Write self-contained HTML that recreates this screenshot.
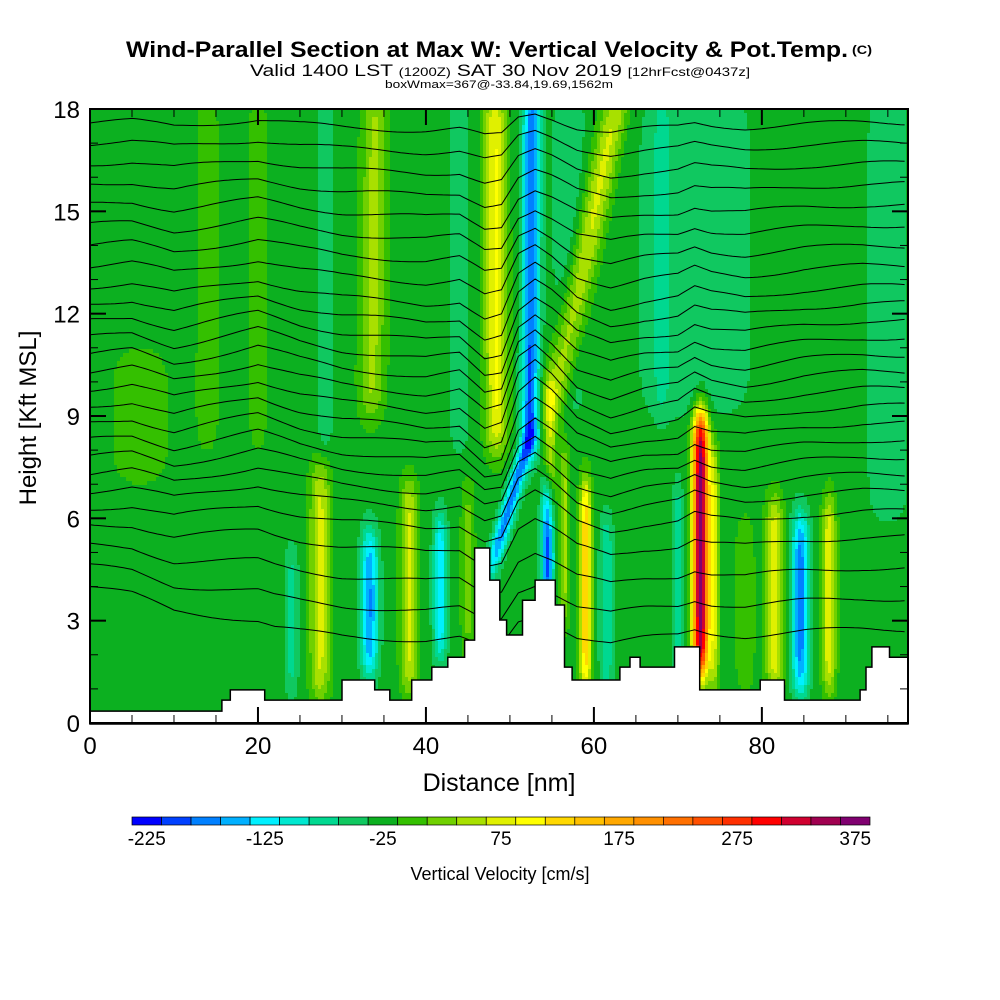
<!DOCTYPE html>
<html><head><meta charset="utf-8"><style>
html,body{margin:0;padding:0;background:#fff;}
svg{display:block;}
text{font-family:"Liberation Sans Narrow","Liberation Sans",sans-serif;}
</style></head><body>
<svg id="chart" width="1000" height="1000" viewBox="0 0 1000 1000" xmlns="http://www.w3.org/2000/svg">
<text x="126" y="57" font-size="22" font-weight="bold" textLength="722" lengthAdjust="spacingAndGlyphs">Wind-Parallel Section at Max W: Vertical Velocity &amp; Pot.Temp.</text>
<text x="852" y="54" font-size="12" font-weight="bold" textLength="20" lengthAdjust="spacingAndGlyphs">(C)</text>
<text x="250" y="76" font-size="17" textLength="500" lengthAdjust="spacingAndGlyphs">Valid 1400 LST <tspan font-size="12">(1200Z)</tspan> SAT 30 Nov 2019 <tspan font-size="12">[12hrFcst@0437z]</tspan></text>
<text x="385" y="88" font-size="11" textLength="228" lengthAdjust="spacingAndGlyphs">boxWmax=367@-33.84,19.69,1562m</text>
<g id="field"></g>
<g id="contours"></g>
<g id="terrain"></g>
<g id="axes"></g>
<g id="cbar"></g>
<text x="499" y="791" font-size="25" text-anchor="middle" style="font-family:'Liberation Sans',sans-serif">Distance [nm]</text>
<text transform="translate(36,418) rotate(-90)" font-size="24" text-anchor="middle" style="font-family:'Liberation Sans',sans-serif">Height [Kft MSL]</text>
<text x="500" y="880" font-size="18" text-anchor="middle" style="font-family:'Liberation Sans',sans-serif">Vertical Velocity [cm/s]</text>
</svg>
<script>
// ---- data ----
const xTicks=[0,20,40,60,80];
const yTicks=[0,3,6,9,12,15,18];
const cbarLabels=[-225,-125,-25,75,175,275,375];
const binColors=["#0000ff","#0040ff","#0080ff","#00b0ff","#00f0ff","#00e8d0","#00d890","#10c860","#0cb020","#34c000","#70d000","#a8e000","#e0f000","#ffff00","#ffd800","#ffc000","#ffa800","#ff9000","#ff7000","#ff5000","#ff3000","#ff0000","#d00030","#a00050","#800070"];
const terrainX=[0,15.7,16.7,20.8,30,33.9,35.7,38.3,40.7,42.6,44.6,45.8,47.6,48.8,49.6,51.5,53,55.4,56.5,57.4,63.1,64.3,65.5,67.9,69.6,72.6,79.8,82.7,91.7,92.4,93.1,95.2];
const terrainH=[0.35,0.67,0.97,0.67,1.26,0.97,0.67,1.26,1.64,1.93,2.43,5.13,4.19,3.02,2.58,3.6,4.19,3.46,1.64,1.26,1.64,1.93,1.64,1.64,2.23,0.97,1.26,0.67,0.97,1.64,2.23,1.93];
const plumeTopX=[48.2,52.6,63,34,28,72,95,27.4,24,33.3,38,41.7,45,54.5,56.5,59,61.5,72.7,74.3,70,81.5,84.6,88,6,78,52.4,54.8,14,20,44,57,68];
const plumeBotX=[48.4,52.4,55,33.5,28,72,95,27.4,24,33.3,38,41.7,45,54.5,56.5,59,61.5,72.7,74.3,70,81.5,84.6,88,6,78,47.8,54.8,14,20,44,57,68];
const plumeWidth=[1.3,1.0,1.6,1.5,1.0,7,2.5,1.2,0.8,1.0,1.0,0.8,0.8,0.7,0.6,0.7,0.8,0.9,0.6,0.6,1.0,1.0,0.8,4,1.2,0.9,0.7,1.5,1.2,1.2,2.0,1.0];
const plumeValue=[115,-165,95,70,-30,-30,-30,95,-50,-140,95,-110,45,-175,70,160,-60,400,90,-55,110,-150,110,25,30,-150,80,25,25,-30,-30,-30];
const plumeBottom=[8,8,9,9,8,9,6,0.8,1,1.5,1,2,2,3.5,3,1,1,1.5,1,1,1,1,1,7,1,4.5,6,8,8,8,9,9];
const plumeTopZ=[18.5,18.5,18.5,18.5,18.5,18.5,18.5,7.5,5,5.5,7,6,7,7,8,7,6,9,8,7,6.5,6,6.5,11,6,8.5,10,18.5,18.5,18.5,18.5,18.5];
const thetaBase=[4.0,4.6,5.2,5.8,6.3,6.8,7.3,7.8,8.3,8.8,9.3,9.8,10.3,10.8,11.3,11.8,12.3,12.8,13.4,14.0,14.6,15.2,15.8,16.4,17.0,17.6];
const dispX=[0,5,10,15,20,25,30,35,40,44,47,49,51,53,55,58,62,66,70,72,74,78,85,92,97.5];
const dispZ=[0,0.1,-0.2,0,0.2,-0.1,-0.3,-0.4,-0.5,-0.4,-0.9,-0.8,0.3,0.6,0.3,-0.3,-0.6,-0.4,-0.3,-0.05,-0.2,-0.3,-0.1,0,0];

// ---- axes ----
const X0=90,X1=908,Y0=723,Y1=109,XMAX=97.4,ZMAX=18;
const sx=d=>X0+d/XMAX*(X1-X0);
const sy=z=>Y0-z/ZMAX*(Y0-Y1);
const NS="http://www.w3.org/2000/svg";
function mk(tag,attrs,parent){const e=document.createElementNS(NS,tag);for(const k in attrs)e.setAttribute(k,attrs[k]);parent.appendChild(e);return e;}
function interp(xs,ys,x){if(x<=xs[0])return ys[0];for(let i=1;i<xs.length;i++){if(x<=xs[i]){const t=(x-xs[i-1])/(xs[i]-xs[i-1]);return ys[i-1]+t*(ys[i]-ys[i-1]);}}return ys[ys.length-1];}
function win(z,a,b){const s1=1/(1+Math.exp(-(z-a)/0.32)),s2=1/(1+Math.exp((z-b)/0.32));return s1*s2;}
function wAt(x,z){let v=-25;for(let i=0;i<plumeValue.length;i++){const t=(z-plumeBottom[i])/Math.max(0.1,plumeTopZ[i]-plumeBottom[i]);const cx=plumeBotX[i]+(plumeTopX[i]-plumeBotX[i])*Math.min(1,Math.max(0,t));const dx=(x-cx)/plumeWidth[i];v+=plumeValue[i]*Math.exp(-dx*dx)*win(z,plumeBottom[i],plumeTopZ[i]);}return v;}
function bin(v){return Math.max(0,Math.min(24,Math.round((v+225)/25)));}

// ---- field ----
const field=document.getElementById('field');
const cw=3,ch=4;
for(let py=Y1;py<Y0;py+=ch){const z=(Y0-(py+ch/2))/(Y0-Y1)*ZMAX;let runStart=X0,runBin=-1;
  for(let px=X0;px<X1+cw;px+=cw){let b=-2;if(px<X1){const x=(px+cw/2-X0)/(X1-X0)*XMAX;b=bin(wAt(x,z));}
    if(b!==runBin){if(runBin>=0){const r=mk('rect',{x:runStart,y:py,width:Math.min(px,X1)-runStart+0.6,height:Math.min(ch,Y0-py)+0.6,fill:binColors[runBin]},field);
      
      }
      runStart=px;runBin=b;}}}

// ---- contours ----
const cg=document.getElementById('contours');
thetaBase.forEach((zb,i)=>{let d='';const f=Math.min(1.3,Math.max(0.4,1.4-Math.abs(zb-10)/8));
  for(let x=0;x<=XMAX;x+=0.5){let z=zb+interp(dispX,dispZ,x)*f+0.08*Math.sin(x/3.3+i);if(zb<6.5){z-=(6.5-zb)*0.5*Math.min(1,x/22);}z=Math.min(z,17.95);d+=(d?'L':'M')+sx(x).toFixed(1)+','+sy(z).toFixed(1);}
  const p=mk('path',{d:d,fill:'none',stroke:'#000','stroke-width':1},cg);
  
  });

// ---- terrain ----
const tg=document.getElementById('terrain');
let td='M'+sx(0)+','+(Y0+1);
for(let i=0;i<terrainX.length;i++){const x0=sx(terrainX[i]),x1=i+1<terrainX.length?sx(terrainX[i+1]):X1;td+='L'+x0.toFixed(1)+','+sy(terrainH[i]).toFixed(1)+'L'+x1.toFixed(1)+','+sy(terrainH[i]).toFixed(1);}
td+='L'+X1+','+(Y0+1)+'Z';
const tp=mk('path',{d:td,fill:'#fff',stroke:'#000','stroke-width':1.5},tg);



// ---- axes ----
const ag=document.getElementById('axes');
const frame=mk('rect',{x:X0,y:Y1,width:X1-X0,height:Y0-Y1,fill:'none',stroke:'#000','stroke-width':2},ag);


for(let v=0;v<=95;v+=5){const major=v%20===0;const L=major?16:8;const x=sx(v);
  mk('line',{x1:x,y1:Y0,x2:x,y2:Y0-L,stroke:'#000','stroke-width':major?2:1},ag);
  mk('line',{x1:x,y1:Y1,x2:x,y2:Y1+L,stroke:'#000','stroke-width':major?2:1},ag);}
xTicks.forEach(v=>{const t=mk('text',{x:sx(v),y:754,'font-size':24,'text-anchor':'middle',style:"font-family:'Liberation Sans',sans-serif"},ag);t.textContent=v;
  
  });
for(let v=0;v<=18;v++){const major=v%3===0;const L=major?16:8;const y=sy(v);
  mk('line',{x1:X0,y1:y,x2:X0+L,y2:y,stroke:'#000','stroke-width':major?2:1},ag);
  mk('line',{x1:X1,y1:y,x2:X1-L,y2:y,stroke:'#000','stroke-width':major?2:1},ag);}
yTicks.forEach(v=>{const t=mk('text',{x:80,y:sy(v)+9,'font-size':24,'text-anchor':'end',style:"font-family:'Liberation Sans',sans-serif"},ag);t.textContent=v;
  
  });

// ---- colorbar ----
const cb=document.getElementById('cbar');
const CB0=132,CB1=870,bw=(CB1-CB0)/binColors.length;
binColors.forEach((c,i)=>{const r=mk('rect',{x:CB0+i*bw,y:817,width:bw,height:8,fill:c,stroke:'#000','stroke-width':0.7},cb);
  
  });
cbarLabels.forEach(v=>{const i=(v+225)/25;const t=mk('text',{x:CB0+(i+0.5)*bw,y:845,'font-size':19,'text-anchor':'middle',style:"font-family:'Liberation Sans',sans-serif"},cb);t.textContent=v;
  
  });
</script>
</body></html>
